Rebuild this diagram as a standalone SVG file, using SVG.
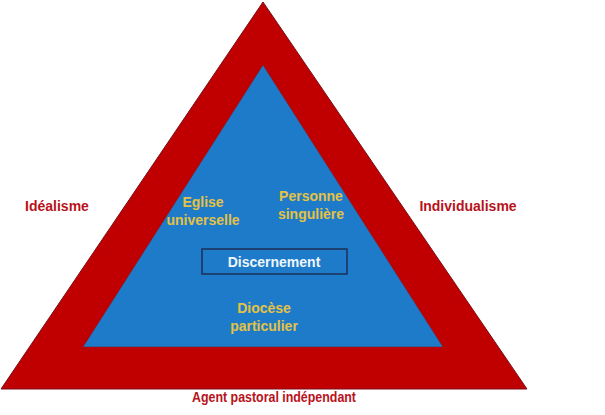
<svg xmlns="http://www.w3.org/2000/svg" width="605" height="415" viewBox="0 0 605 415">
<style>
text{font-family:"Liberation Sans",Arial,sans-serif;font-weight:bold;font-size:14px;text-anchor:middle}
.outer{fill:#B8121B}
.inner{fill:#E4C244}
.disc{fill:#EEF6FC}
</style>
<rect width="605" height="415" fill="#ffffff"/>
<g id="outer-triangle">
<polygon points="1,389 263,2 527,389" fill="#C00000" stroke="#7A0F1A" stroke-width="1"/>
</g>
<g id="inner-triangle">
<polygon points="83,347 263,65 443,347" fill="#1E7BC9" stroke="#7A2030" stroke-width="0.6"/>
</g>
<g id="idealisme"><text class="outer" x="57" y="211">Idéalisme</text></g>
<g id="individualisme"><text class="outer" x="468" y="211">Individualisme</text></g>
<g id="agent"><text class="outer" x="274" y="402" textLength="164" lengthAdjust="spacingAndGlyphs">Agent pastoral indépendant</text></g>
<g id="eglise"><text class="inner" x="203" y="207">Eglise</text><text class="inner" x="203" y="225">universelle</text></g>
<g id="personne"><text class="inner" x="311" y="201">Personne</text><text class="inner" x="311" y="219">singulière</text></g>
<g id="discernement">
<rect x="202" y="249" width="145" height="25" fill="#1E7BC9" stroke="#1B2F57" stroke-width="1.5"/>
<text class="disc" x="274" y="267">Discernement</text>
</g>
<g id="diocese"><text class="inner" x="264" y="313">Diocèse</text><text class="inner" x="264" y="331">particulier</text></g>
<g id="connectors"></g>
</svg>
